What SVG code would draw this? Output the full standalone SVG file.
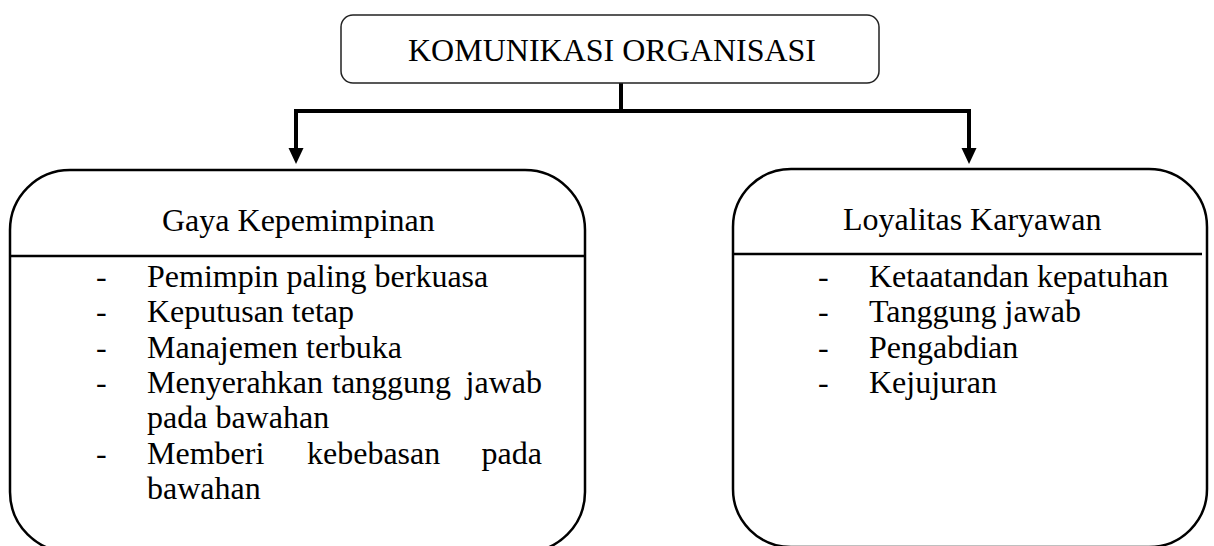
<svg xmlns="http://www.w3.org/2000/svg" width="1214" height="546" viewBox="0 0 1214 546">
<style>
text{font-family:"Liberation Serif","Times New Roman",serif;font-size:32px;fill:#000}
.box{fill:none;stroke:#000;stroke-width:2.5}
.div{stroke:#000;stroke-width:2.5}
.conn{fill:none;stroke:#000;stroke-width:4}
.head{fill:#000}
</style>
<rect width="1214" height="546" fill="#fff"/>
<g id="connectors">
<line class="conn" x1="621" y1="83" x2="621" y2="111"/>
<line class="conn" x1="294" y1="111" x2="971" y2="111"/>
<path d="M296,109 L296,150" class="conn"/>
<path d="M969,109 L969,150" class="conn"/>
<path class="head" d="M288.5,148 L303.5,148 L296,164 Z"/>
<path class="head" d="M961.5,148 L976.5,148 L969,164 Z"/>
</g>
<g id="komunikasi">
<rect x="341" y="15" width="538" height="68" rx="12" fill="#fff" stroke="#222" stroke-width="1.5"/>
<text x="612" y="61" text-anchor="middle">KOMUNIKASI ORGANISASI</text>
</g>
<g id="gaya">
<path class="box" d="M70,170 H525 A60,60 0 0 1 585,230 V492 A60,60 0 0 1 525,552 H70 A60,60 0 0 1 10,492 V230 A60,60 0 0 1 70,170 Z"/>
<line class="div" x1="10" y1="256" x2="585" y2="256"/>
<text x="162" y="231">Gaya Kepemimpinan</text>
<text x="96" y="287">-</text><text x="147" y="287">Pemimpin paling berkuasa</text>
<text x="96" y="322">-</text><text x="147" y="322">Keputusan tetap</text>
<text x="96" y="358">-</text><text x="147" y="358">Manajemen terbuka</text>
<text x="96" y="393">-</text><text x="147" y="393">Menyerahkan</text><text x="332" y="393">tanggung</text><text x="542" y="393" text-anchor="end">jawab</text>
<text x="147" y="428">pada bawahan</text>
<text x="96" y="464">-</text><text x="147" y="464">Memberi</text><text x="307" y="464">kebebasan</text><text x="542" y="464" text-anchor="end">pada</text>
<text x="147" y="499">bawahan</text>
</g>
<g id="loyalitas">
<path class="box" d="M791,169 H1149 A58,58 0 0 1 1207,227 V489 A58,58 0 0 1 1149,547 H791 A58,58 0 0 1 733,489 V227 A58,58 0 0 1 791,169 Z"/>
<line class="div" x1="733" y1="254" x2="1202" y2="254"/>
<text x="843" y="230">Loyalitas Karyawan</text>
<text x="818" y="287">-</text><text x="869" y="287">Ketaatandan kepatuhan</text>
<text x="818" y="322">-</text><text x="869" y="322">Tanggung jawab</text>
<text x="818" y="358">-</text><text x="869" y="358">Pengabdian</text>
<text x="818" y="393">-</text><text x="869" y="393">Kejujuran</text>
</g>
</svg>
